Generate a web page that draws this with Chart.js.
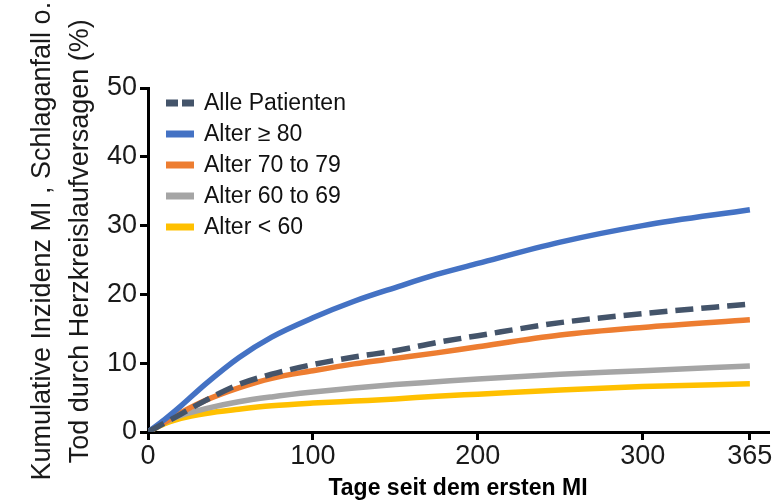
<!DOCTYPE html>
<html>
<head>
<meta charset="utf-8">
<script src="https://cdn.jsdelivr.net/npm/chart.js@4"></script>
<style>
  html, body { margin: 0; padding: 0; background: #fff; }
  #wrap { width: 782px; height: 502px; }
</style>
</head>
<body>
<div id="wrap"><canvas id="myChart" width="782" height="502"></canvas></div>
<script>
// days since first MI
const days = [0, 10, 20, 35, 55, 75, 100, 125, 150, 175, 200, 250, 300, 365];
const xTicks = [0, 100, 200, 300, 365];

// cumulative incidence (%)
const allePatienten = [0, 1.3, 2.6, 4.6, 6.9, 8.4, 9.8, 10.9, 11.8, 13.0, 14.0, 15.9, 17.2, 18.6];
const alter80 = [0, 1.8, 3.8, 7.0, 10.8, 13.8, 16.6, 19.0, 21.0, 22.9, 24.5, 27.6, 30.0, 32.3];
const alter70 = [0, 1.4, 2.8, 4.6, 6.4, 7.8, 8.9, 9.9, 10.7, 11.5, 12.4, 14.1, 15.2, 16.3];
const alter60 = [0, 1.4, 2.4, 3.4, 4.4, 5.1, 5.8, 6.4, 6.9, 7.3, 7.7, 8.4, 8.9, 9.6];
const alterUnter60 = [0, 1.2, 2.0, 2.7, 3.3, 3.8, 4.2, 4.5, 4.8, 5.2, 5.5, 6.1, 6.6, 7.0];

const labels = ['Alle Patienten', 'Alter \u2265 80', 'Alter 70 to 79', 'Alter 60 to 69', 'Alter < 60'];
const colors = ['#44546A', '#4472C4', '#ED7D31', '#A5A5A5', '#FFC000'];

const fontFamily = '"Liberation Sans", Arial, sans-serif';

function toPoints(values) {
    return values.map((v, i) => ({ x: days[i], y: v }));
}

// legend drawn inside the plot, top left
const innerLegend = {
    id: 'innerLegend',
    afterDraw(chart) {
        const ctx = chart.ctx;
        const left = chart.chartArea.left + 18;
        let y = 103;
        ctx.save();
        ctx.font = '23px ' + fontFamily;
        ctx.textBaseline = 'middle';
        chart.data.datasets.forEach(ds => {
            ctx.beginPath();
            ctx.strokeStyle = ds.borderColor;
            ctx.lineWidth = 7;
            ctx.setLineDash(ds.borderDash && ds.borderDash.length ? [12, 4] : []);
            ctx.moveTo(left, y);
            ctx.lineTo(left + 28, y);
            ctx.stroke();
            ctx.setLineDash([]);
            ctx.fillStyle = '#111';
            ctx.fillText(ds.label, left + 38, y + 1);
            y += 31;
        });
        ctx.restore();
    }
};

const datasets = [allePatienten, alter80, alter70, alter60, alterUnter60].map((vals, i) => ({
    label: labels[i],
    data: toPoints(vals),
    borderColor: colors[i],
    backgroundColor: colors[i],
    borderWidth: 5.5,
    borderDash: i === 0 ? [18, 8] : [],
    pointRadius: 0,
    cubicInterpolationMode: 'monotone',
    fill: false
}));

// draw all patients on top
datasets[0].order = -1;

new Chart(document.getElementById('myChart').getContext('2d'), {
    type: 'line',
    data: { datasets: datasets },
    options: {
        responsive: false,
        animation: false,
        layout: { padding: { left: 24, top: 88, right: 14, bottom: 0 } },
        plugins: {
            legend: { display: false },
            tooltip: { enabled: false }
        },
        scales: {
            x: {
                type: 'linear',
                min: 0,
                max: 376,
                afterBuildTicks: scale => { scale.ticks = xTicks.map(v => ({ value: v })); },
                afterFit: scale => { scale.height = 70; },
                grid: { drawOnChartArea: false, color: '#000', lineWidth: 3, tickLength: 8 },
                border: { color: '#000', width: 3 },
                ticks: {
                    color: '#1a1a1a',
                    padding: 0,
                    maxRotation: 0,
                    autoSkip: false,
                    font: { family: fontFamily, size: 27 }
                },
                title: {
                    display: true,
                    text: 'Tage seit dem ersten MI',
                    color: '#000',
                    padding: { top: 2, bottom: 0 },
                    font: { family: fontFamily, size: 23, weight: 'bold' }
                }
            },
            y: {
                min: 0,
                max: 50,
                afterFit: scale => { scale.width = 124; },
                grid: { drawOnChartArea: false, color: '#000', lineWidth: 3, tickLength: 8 },
                border: { color: '#000', width: 3 },
                ticks: {
                    stepSize: 10,
                    color: '#1a1a1a',
                    padding: 3,
                    font: { family: fontFamily, size: 27 }
                },
                title: {
                    display: true,
                    // leading spaces nudge the text up to where the original sits
                    text: ['     Kumulative Inzidenz MI , Schlaganfall o.', '     Tod durch Herzkreislaufversagen (%)'],
                    color: '#1a1a1a',
                    padding: 0,
                    font: { family: fontFamily, size: 27, lineHeight: 1.4 }
                }
            }
        }
    },
    plugins: [innerLegend]
});
</script>
</body>
</html>
